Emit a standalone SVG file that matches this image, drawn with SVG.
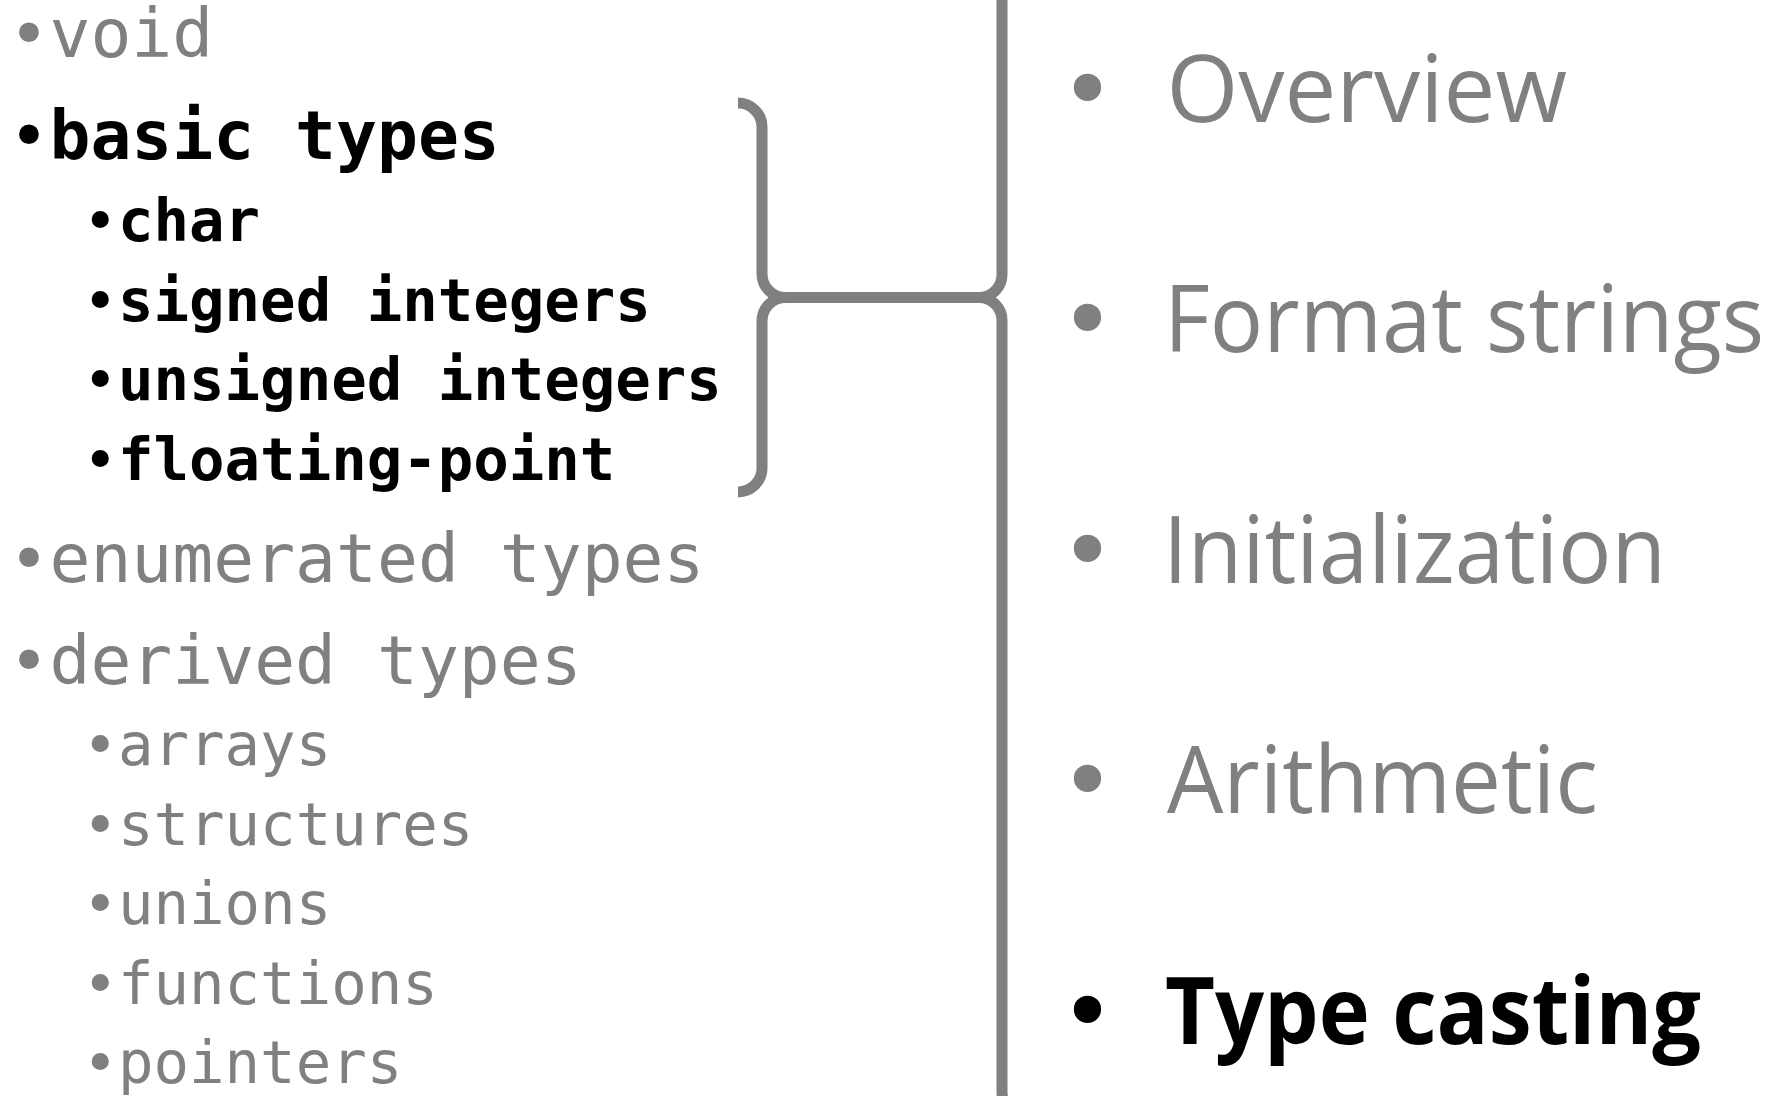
<svg xmlns="http://www.w3.org/2000/svg" width="1770" height="1096" viewBox="0 0 1770 1096">
<style>
.top{font-family:"DejaVu Sans Mono","Liberation Mono",monospace;font-size:68px;}
.sub{font-family:"DejaVu Sans Mono","Liberation Mono",monospace;font-size:59px;}
.sans{font-family:"Open Sans","Noto Sans",sans-serif;font-size:94px;}
.gray{fill:#808080;}
.dark{fill:#000000;font-weight:bold;}
.nb{font-weight:normal;}
.bul{font-family:"DejaVu Sans",sans-serif;font-size:94px;font-weight:normal;text-anchor:middle;}
.brace{fill:none;stroke:#808080;stroke-width:11;stroke-linecap:butt;stroke-linejoin:round;}
</style>
<rect x="0" y="0" width="1770" height="1096" fill="#ffffff"/>
<g id="left-list">
  <g id="item-void"><text class="top gray" x="8.5" y="57">•void</text></g>
  <g id="item-basic-types"><text class="top dark" x="8.5" y="159"><tspan class="nb">•</tspan>basic types</text></g>
  <g id="item-char"><text class="sub dark" x="82.5" y="241"><tspan class="nb">•</tspan>char</text></g>
  <g id="item-signed-integers"><text class="sub dark" x="82.5" y="320.5"><tspan class="nb">•</tspan>signed integers</text></g>
  <g id="item-unsigned-integers"><text class="sub dark" x="82.5" y="400"><tspan class="nb">•</tspan>unsigned integers</text></g>
  <g id="item-floating-point"><text class="sub dark" x="82.5" y="479.5"><tspan class="nb">•</tspan>floating-point</text></g>
  <g id="item-enumerated-types"><text class="top gray" x="8.5" y="582">•enumerated types</text></g>
  <g id="item-derived-types"><text class="top gray" x="8.5" y="683.5">•derived types</text></g>
  <g id="item-arrays"><text class="sub gray" x="82.5" y="765">•arrays</text></g>
  <g id="item-structures"><text class="sub gray" x="82.5" y="844.5">•structures</text></g>
  <g id="item-unions"><text class="sub gray" x="82.5" y="924">•unions</text></g>
  <g id="item-functions"><text class="sub gray" x="82.5" y="1003.5">•functions</text></g>
  <g id="item-pointers"><text class="sub gray" x="82.5" y="1083">•pointers</text></g>
</g>
<g id="connectors">
  <path class="brace" d="M 738,103 A 24 24 0 0 1 762,127 V 274 A 23.5 23.5 0 0 0 785.5,297.5 A 23.5 23.5 0 0 0 762,321 V 468 A 24 24 0 0 1 738,492"/>
  <path class="brace" d="M 785.5,297.5 H 979"/>
  <path class="brace" d="M 1026,-36 A 24 24 0 0 0 1002,-12 V 274 A 23 23 0 0 1 979,297.5 A 23 23 0 0 1 1002,321 V 1092 A 24 24 0 0 0 1026,1116"/>
</g>
<g id="right-list">
  <g id="topic-overview"><text class="bul gray" x="1087.5" y="122">•</text><text class="sans gray" x="1166.5" y="122" textLength="400.5" lengthAdjust="spacingAndGlyphs">Overview</text></g>
  <g id="topic-format-strings"><text class="bul gray" x="1087.5" y="352">•</text><text class="sans gray" x="1164" y="352" textLength="600" lengthAdjust="spacingAndGlyphs">Format strings</text></g>
  <g id="topic-initialization"><text class="bul gray" x="1087.5" y="582.5">•</text><text class="sans gray" x="1163" y="582.5" textLength="503" lengthAdjust="spacingAndGlyphs">Initialization</text></g>
  <g id="topic-arithmetic"><text class="bul gray" x="1087.5" y="813">•</text><text class="sans gray" x="1167" y="813" textLength="431" lengthAdjust="spacingAndGlyphs">Arithmetic</text></g>
  <g id="topic-type-casting"><text class="bul" x="1087.5" y="1043.5" fill="#000000">•</text><text class="sans dark" x="1165" y="1043.5" textLength="536" lengthAdjust="spacingAndGlyphs">Type casting</text></g>
</g>
</svg>
